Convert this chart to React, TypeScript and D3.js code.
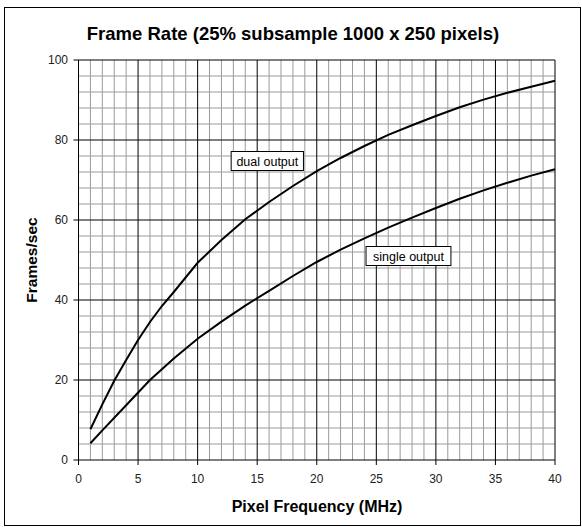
import React from "react";
import * as d3 from "d3";

const dualX = [1, 2, 3, 4, 5, 6, 7, 8, 10, 12, 14, 16, 18, 20, 22, 24, 26, 28, 30, 32, 34, 36, 38, 40];
const dualY = [7.7, 13.9, 19.8, 25, 30, 34.5, 38.5, 42, 49.3, 55, 60.2, 64.5, 68.5, 72.2, 75.5, 78.5, 81.3, 83.7, 86, 88.2, 90.1, 91.8, 93.3, 94.8];
const singleX = [1, 2, 4, 6, 8, 10, 12, 14, 16, 18, 20, 22, 24, 26, 28, 30, 32, 34, 36, 38, 40];
const singleY = [4.2, 7.4, 13.7, 20, 25.4, 30.3, 34.6, 38.6, 42.3, 46, 49.5, 52.6, 55.4, 58.1, 60.6, 63, 65.3, 67.4, 69.3, 71.1, 72.7];
const xTicks = [0, 5, 10, 15, 20, 25, 30, 35, 40];
const yTicks = [0, 20, 40, 60, 80, 100];
const xMinor = d3.range(0, 41, 1);
const yMinor = d3.range(0, 101, 4);
const labels = [
  { text: "dual output", x: 15.85, y: 74.75 },
  { text: "single output", x: 27.7, y: 51 },
];

const W = 582;
const H = 527;
const left = 78.5;
const right = 555;
const top = 60;
const bottom = 460;

export default function App() {
  const x = d3.scaleLinear().domain([0, 40]).range([left, right]);
  const y = d3.scaleLinear().domain([0, 100]).range([bottom, top]);
  const line = d3
    .line<[number, number]>()
    .x((d) => x(d[0]))
    .y((d) => y(d[1]));
  const dual = dualX.map((v, i) => [v, dualY[i]] as [number, number]);
  const single = singleX.map((v, i) => [v, singleY[i]] as [number, number]);
  const font = "Arial, 'Liberation Sans', sans-serif";
  return (
    <svg
      width={W}
      height={H}
      style={{ position: "absolute", left: 0, top: 0, background: "#fff" }}
      fontFamily={font}
    >
      <rect x={4.5} y={7.5} width={576} height={518} fill="#fff" stroke="#000" strokeWidth={1} />
      <text x={293} y={40} textAnchor="middle" fontSize={18.5} fontWeight="bold">
        Frame Rate (25% subsample 1000 x 250 pixels)
      </text>
      {xMinor
        .filter((v) => v % 5 !== 0)
        .map((v) => (
          <line key={"xm" + v} x1={x(v)} x2={x(v)} y1={top} y2={bottom} stroke="#9a9a9a" strokeWidth={1} />
        ))}
      {yMinor
        .filter((v) => v % 20 !== 0)
        .map((v) => (
          <line key={"ym" + v} x1={left} x2={right} y1={y(v)} y2={y(v)} stroke="#9a9a9a" strokeWidth={1} />
        ))}
      {xTicks.map((v) => (
        <line key={"xM" + v} x1={x(v)} x2={x(v)} y1={top} y2={bottom + 5} stroke="#000" strokeWidth={1} />
      ))}
      {yTicks.map((v) => (
        <line key={"yM" + v} x1={left - 5} x2={right} y1={y(v)} y2={y(v)} stroke="#000" strokeWidth={1} />
      ))}
      {xTicks.map((v) => (
        <text key={"xl" + v} x={x(v)} y={483} textAnchor="middle" fontSize={12} fill="#222">
          {v}
        </text>
      ))}
      {yTicks.map((v) => (
        <text key={"yl" + v} x={68} y={y(v) + 4} textAnchor="end" fontSize={12} fill="#222">
          {v}
        </text>
      ))}
      <path d={line(dual) || ""} fill="none" stroke="#000" strokeWidth={2} />
      <path d={line(single) || ""} fill="none" stroke="#000" strokeWidth={2} />
      {labels.map((l) => {
        const w = l.text.length * 6.3 + 3;
        return (
          <g key={l.text}>
            <rect
              x={x(l.x) - w / 2}
              y={y(l.y) - 9.5}
              width={w}
              height={19}
              fill="#fff"
              stroke="#000"
              strokeWidth={1}
            />
            <text x={x(l.x)} y={y(l.y) + 4.5} textAnchor="middle" fontSize={12.5}>
              {l.text}
            </text>
          </g>
        );
      })}
      <text x={317} y={512} textAnchor="middle" fontSize={16} fontWeight="bold">
        Pixel Frequency (MHz)
      </text>
      <text
        transform={`translate(37, 260) rotate(-90)`}
        textAnchor="middle"
        fontSize={15.5}
        fontWeight="bold"
      >
        Frames/sec
      </text>
    </svg>
  );
}
